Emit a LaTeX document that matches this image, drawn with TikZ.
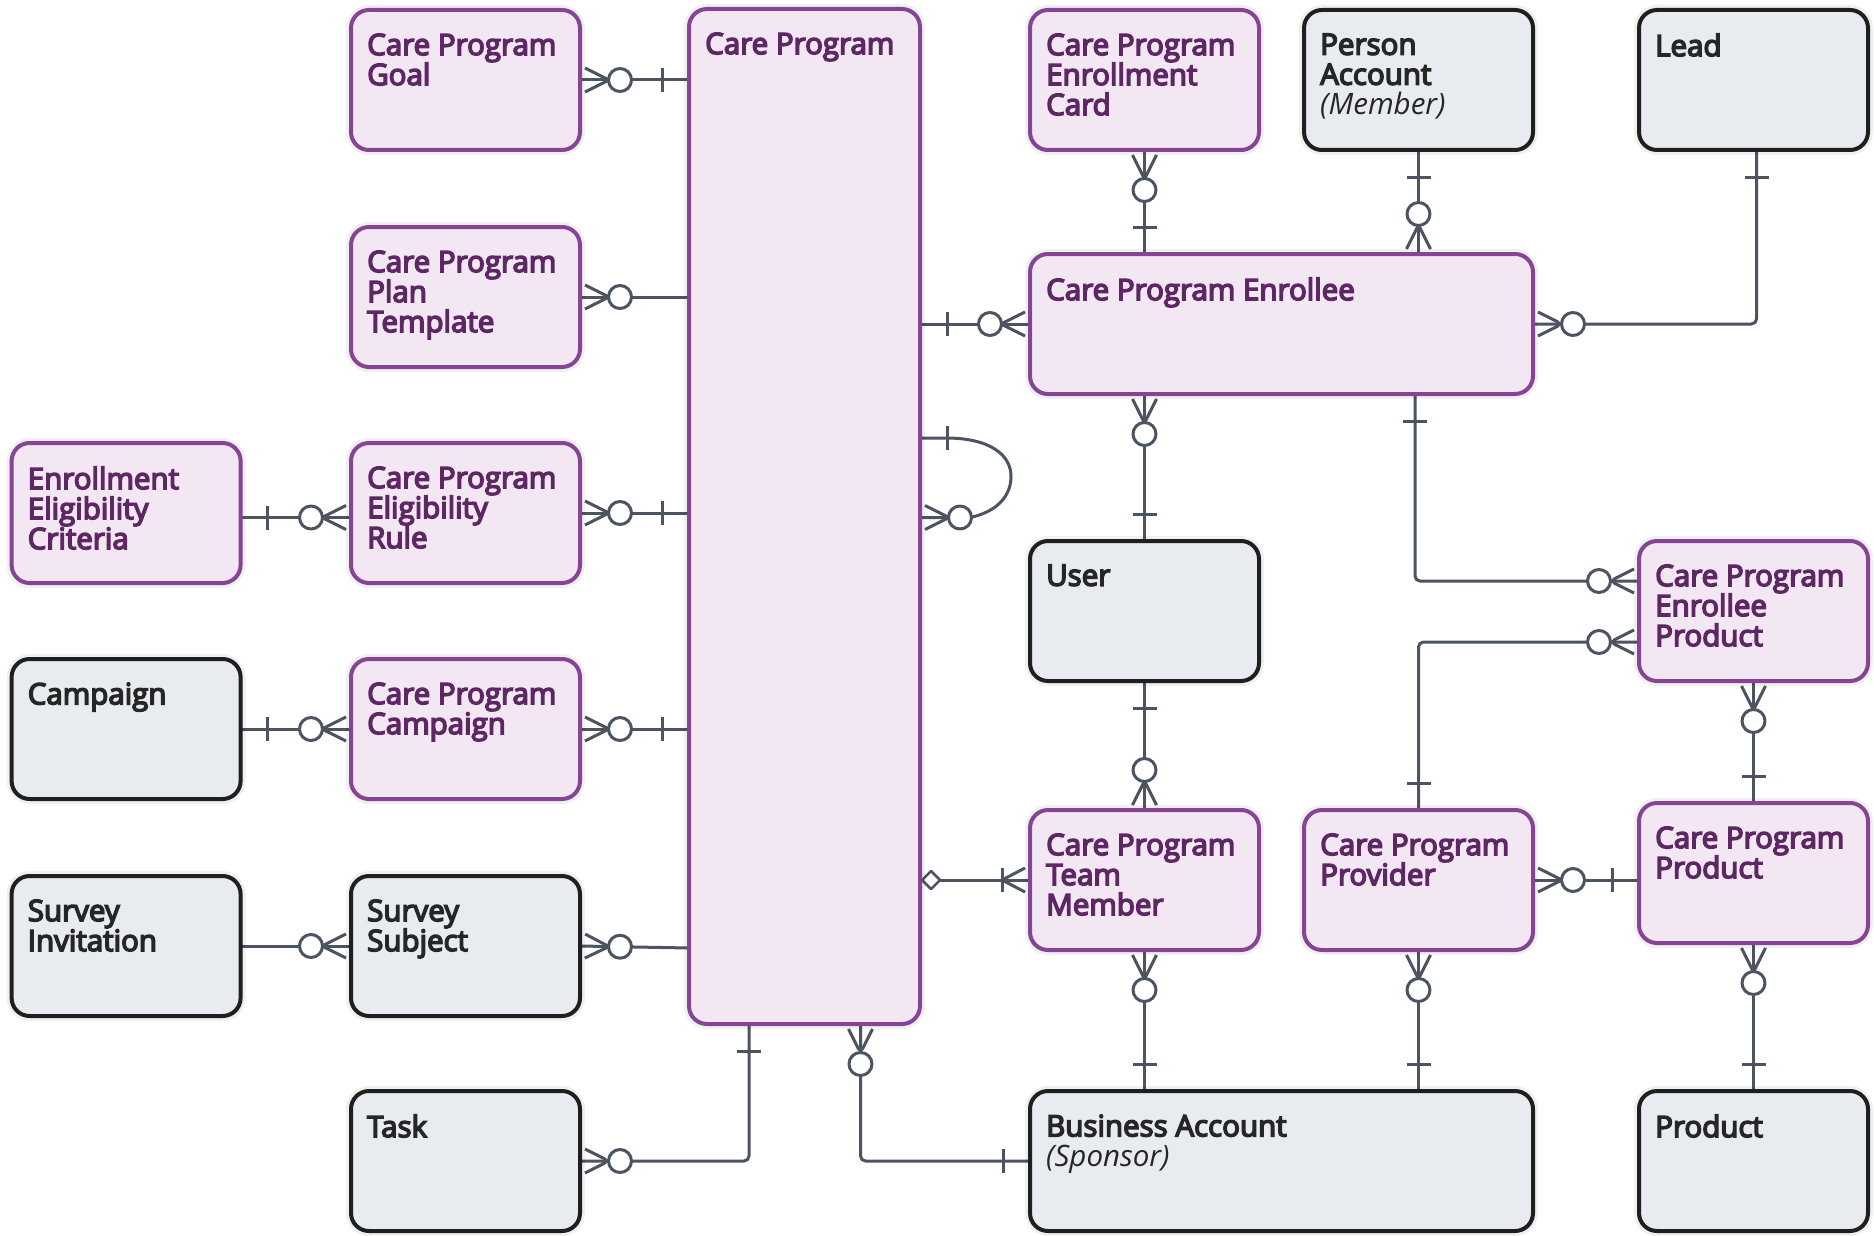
\documentclass[tikz,border=0pt]{standalone}
\usepackage{fontspec}
\setmainfont{Open Sans}
\newfontfamily\lblfont{Open Sans}[FakeBold=5]
\usetikzlibrary{decorations.markings,backgrounds}
\definecolor{pfill}{HTML}{F3E7F3}
\definecolor{pborder}{HTML}{874495}
\definecolor{ptext}{HTML}{5C2763}
\definecolor{gfill}{HTML}{E8EBEF}
\definecolor{gborder}{HTML}{1F1F1F}
\definecolor{gtext}{HTML}{262626}
\definecolor{lcol}{HTML}{4B5460}
\tikzset{
  ent/.style={draw, rounded corners=18pt, line width=4pt, minimum width=229pt,
    minimum height=140pt, inner sep=0pt, outer sep=0pt, anchor=north west,
    preaction={draw=black, draw opacity=0.06, line width=10pt}},
  pent/.style={ent, draw=pborder, fill=pfill},
  gent/.style={ent, draw=gborder, fill=gfill},
  plbl/.style={anchor=north west, xshift=16pt, yshift=-23.5pt, align=left,
    inner sep=0pt, font=\lblfont\fontsize{29.5}{30}\selectfont, text=ptext},
  glbl/.style={plbl, text=gtext},
  lnk/.style={line width=3pt, draw=lcol, line join=round},
  rel/.style={lnk, postaction={decorate}, decoration={markings}},
  zm start/.style={decoration={mark=at position 0 with {
    \draw[lnk] (5pt,12pt) -- (29pt,0pt) -- (5pt,-12pt);
    \draw[lnk, fill=white] (40pt,0pt) circle (11.5pt);}}},
  zm end/.style={decoration={mark=at position 1 with {
    \draw[lnk] (-5pt,12pt) -- (-29pt,0pt) -- (-5pt,-12pt);
    \draw[lnk, fill=white] (-40pt,0pt) circle (11.5pt);}}},
  one start/.style={decoration={mark=at position 0 with {
    \draw[lnk] (27pt,12pt) -- (27pt,-12pt);}}},
  one end/.style={decoration={mark=at position 1 with {
    \draw[lnk] (-27pt,12pt) -- (-27pt,-12pt);}}},
  om end/.style={decoration={mark=at position 1 with {
    \draw[lnk] (-5pt,12pt) -- (-28pt,0pt) -- (-5pt,-12pt);
    \draw[lnk] (-28pt,12pt) -- (-28pt,-12pt);}}},
  dia start/.style={decoration={mark=at position 0 with {
    \draw[lnk, line width=2.5pt, fill=white] (2pt,0pt) -- (11pt,9pt) -- (20pt,0pt) -- (11pt,-9pt) -- cycle;}}},
}
\begin{document}
\begin{tikzpicture}[x=1pt,y=-1pt]
\useasboundingbox (0,0) rectangle (1874,1236);
% column A
\node[pent, label={[plbl]north west:{Enrollment\\Eligibility\\Criteria}}] (crit) at (11.6,443) {};
\node[gent, label={[glbl]north west:{Campaign}}] (camp) at (11.6,659) {};
\node[gent, label={[glbl]north west:{Survey\\Invitation}}] (sinv) at (11.6,876) {};
% column B
\node[pent, label={[plbl]north west:{Care Program\\Goal}}] (goal) at (351,10) {};
\node[pent, label={[plbl]north west:{Care Program\\Plan\\Template}}] (plan) at (351,227) {};
\node[pent, label={[plbl]north west:{Care Program\\Eligibility\\Rule}}] (rule) at (351,443) {};
\node[pent, label={[plbl]north west:{Care Program\\Campaign}}] (cpc) at (351,659) {};
\node[gent, label={[glbl]north west:{Survey\\Subject}}] (ssub) at (351,876) {};
\node[gent, label={[glbl]north west:{Task}}] (task) at (351,1091) {};
% care program
\node[pent, minimum width=231pt, minimum height=1015pt, label={[plbl]north west:{Care Program}}] (cp) at (689,9) {};
% column D
\node[pent, label={[plbl]north west:{Care Program\\Enrollment\\Card}}] (card) at (1030,10) {};
\node[gent, label={[glbl]north west:{Person\\Account\\{\rmfamily\itshape (Member)}}}] (pa) at (1304,10) {};
\node[gent, label={[glbl]north west:{Lead}}] (lead) at (1639,10) {};
\node[pent, minimum width=503pt, label={[plbl]north west:{Care Program Enrollee}}] (enr) at (1030,254) {};
\node[gent, label={[glbl]north west:{User}}] (user) at (1030,541) {};
\node[pent, label={[plbl]north west:{Care Program\\Enrollee\\Product}}] (cpep) at (1639,541) {};
\node[pent, label={[plbl]north west:{Care Program\\Team\\Member}}] (tm) at (1030,810) {};
\node[pent, label={[plbl]north west:{Care Program\\Provider}}] (prov) at (1304,810) {};
\node[pent, label={[plbl]north west:{Care Program\\Product}}] (cpp) at (1639,803) {};
\node[gent, minimum width=503pt, label={[glbl]north west:{Business Account\\{\rmfamily\itshape (Sponsor)}}}] (ba) at (1030,1091) {};
\node[gent, label={[glbl]north west:{Product}}] (prod) at (1639,1091) {};

\begin{pgfonlayer}{background}
\fill[white] (0,0) rectangle (1874,1236);
% left side
\draw[rel, zm start, one end] (goal.east) -- (goal.east -| cp.west);
\draw[rel, zm start] (plan.east) -- (plan.east -| cp.west);
\draw[rel, zm start, one end] (rule.east) -- (rule.east -| cp.west);
\draw[rel, one start, zm end] (crit.east |- 0,517.5) -- (rule.west |- 0,517.5);
\draw[rel, one start, zm end] (camp.east) -- (cpc.west);
\draw[rel, zm start, one end] (cpc.east) -- (cpc.east -| cp.west);
\draw[rel, zm end] (sinv.east) -- (ssub.west);
\draw[rel, zm start] (ssub.east) -- (cp.west |- 0,948);
\draw[rel, zm start, one end, rounded corners=5pt] (task.east) -| ([xshift=-55.5pt]cp.south);
\draw[rel, zm start, one end, rounded corners=5pt] ([xshift=56pt]cp.south) |- (ba.west);
% self loop
\draw[rel, one start, zm end] (cp.east |- 0,438) -- (946,438)
  .. controls (990,438) and (1012,455) .. (1011,478)
  .. controls (1010,500) and (992,513) .. (970,517.5) -- (cp.east |- 0,517.5);
% right side
\draw[rel, one start, zm end] (cp.east |- enr.west) -- (enr.west);
\draw[rel, zm start, one end] (card.south) -- (card.south |- enr.north);
\draw[rel, one start, zm end] (pa.south) -- (pa.south |- enr.north);
\draw[rel, one start, zm end, rounded corners=5pt] ([xshift=3pt]lead.south) |- (enr.east);
\draw[rel, zm start, one end] (user.north |- enr.south) -- (user.north);
\draw[rel, one start, zm end] (user.south) -- (user.south |- tm.north);
\draw[rel, dia start, om end] (cp.east |- tm.west) -- (tm.west);
\draw[rel, zm start, one end] (tm.south) -- (tm.south |- ba.north);
\draw[rel, one start, zm end, rounded corners=5pt] (enr.south -| 1415,0) |- (cpep.west |- 0,581);
\draw[rel, one start, zm end, rounded corners=5pt] (prov.north) |- (cpep.west |- 0,642);
\draw[rel, zm start, one end] (cpep.south) -- (cpep.south |- cpp.north);
\draw[rel, zm start, one end] (prov.east) -- (prov.east -| cpp.west);
\draw[rel, zm start, one end] (prov.south) -- (prov.south |- ba.north);
\draw[rel, zm start, one end] (cpp.south) -- (cpp.south |- prod.north);
\end{pgfonlayer}
\end{tikzpicture}
\end{document}
